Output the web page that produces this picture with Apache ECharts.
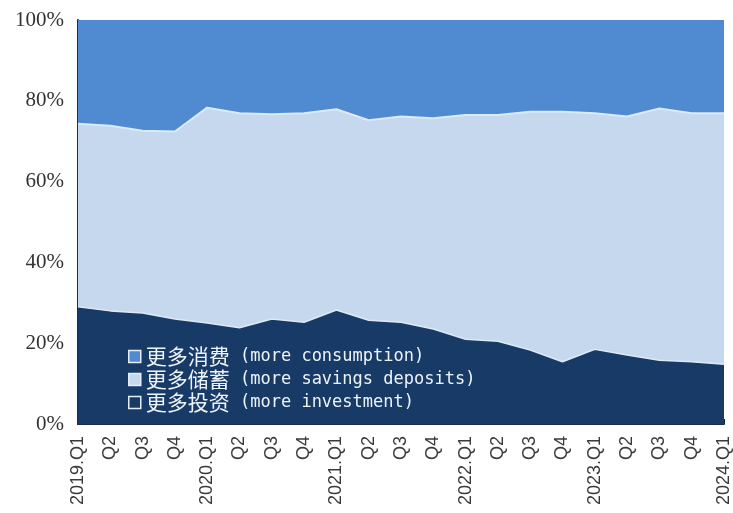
<!DOCTYPE html>
<html>
<head>
<meta charset="utf-8">
<script src="https://cdn.jsdelivr.net/npm/echarts@6/dist/echarts.min.js"></script>
<style>
html, body { margin: 0; padding: 0; background: #fff; }
#chart { width: 733px; height: 513px; }
</style>
</head>
<body>
<div id="chart"></div>
<script>
var chartDom = document.getElementById('chart');
var myChart = echarts.init(chartDom);

var quarters = ['2019.Q1', 'Q2', 'Q3', 'Q4', '2020.Q1', 'Q2', 'Q3', 'Q4', '2021.Q1', 'Q2', 'Q3', 'Q4',
    '2022.Q1', 'Q2', 'Q3', 'Q4', '2023.Q1', 'Q2', 'Q3', 'Q4', '2024.Q1'];

// share of depositors (%)
var investment = [29.0, 28.0, 27.5, 26.0, 25.0, 23.8, 26.0, 25.2, 28.2, 25.7, 25.2, 23.5,
    21.0, 20.5, 18.3, 15.4, 18.5, 17.1, 15.8, 15.4, 14.8];
var savings = [45.3, 45.8, 45.1, 46.4, 53.3, 53.1, 50.7, 51.7, 49.7, 49.5, 50.9, 52.2,
    55.5, 56.0, 59.0, 61.9, 58.4, 59.0, 62.3, 61.5, 62.1];
var consumption = [25.7, 26.2, 27.4, 27.6, 21.7, 23.1, 23.3, 23.1, 22.1, 24.8, 23.9, 24.3,
    23.5, 23.5, 22.7, 22.7, 23.1, 23.9, 21.9, 23.1, 23.1];

var namesCn = ['更多消费', '更多储蓄', '更多投资'];
var namesEn = ['(more consumption)', '(more savings deposits)', '(more investment)'];

var colConsumption = '#508bd1';
var colSavings = '#c6d8ee';
var colInvestment = '#183a66';

function areaSeries(idx, data, color, lineW) {
    return {
        name: namesCn[idx],
        type: 'line',
        stack: 'total',
        data: data,
        symbol: 'none',
        lineStyle: { color: '#dce9f6', width: lineW },
        areaStyle: { color: color, opacity: 1 },
        itemStyle: { color: color }
    };
}

var option = {
    animation: false,
    backgroundColor: '#fff',
    grid: { left: 78, right: 8, top: 20, bottom: 89 },
    legend: {
        orient: 'vertical',
        left: 123,
        top: 341,
        itemWidth: 12,
        itemHeight: 12,
        itemGap: 2,
        icon: 'rect',
        data: namesCn,
        itemStyle: { borderColor: '#e4eefa', borderWidth: 1.5 },
        formatter: function (name) {
            var i = namesCn.indexOf(name);
            return '{a|' + name + '}{b| ' + namesEn[i] + '}';
        },
        textStyle: {
            color: '#eef3fa',
            rich: {
                a: { fontFamily: 'Noto Sans CJK SC', fontSize: 21, lineHeight: 20, color: '#eef3fa' },
                b: { fontFamily: 'DejaVu Sans Mono', fontSize: 17, lineHeight: 20, color: '#eef3fa' }
            }
        }
    },
    xAxis: {
        type: 'category',
        data: quarters,
        boundaryGap: false,
        axisLine: { lineStyle: { color: '#1b2d4a', width: 2 } },
        axisTick: { inside: true, length: 5, lineStyle: { color: '#0f2342' } },
        axisLabel: {
            rotate: 90,
            interval: 0,
            margin: 12,
            fontFamily: 'Liberation Sans',
            fontSize: 18,
            color: '#3a3a3a'
        }
    },
    yAxis: {
        type: 'value',
        min: 0,
        max: 100,
        interval: 20,
        axisLine: { show: true, lineStyle: { color: '#1b2d4a', width: 2 } },
        axisTick: { show: true, inside: true, length: 5, lineStyle: { color: '#1b2d4a' } },
        splitLine: { show: false },
        axisLabel: {
            formatter: '{value}%',
            margin: 14,
            fontFamily: 'Liberation Serif',
            fontSize: 21,
            color: '#333'
        }
    },
    series: [
        areaSeries(2, investment, colInvestment, 1.5),
        areaSeries(1, savings, colSavings, 2),
        areaSeries(0, consumption, colConsumption, 0)
    ]
};

option && myChart.setOption(option);
</script>
</body>
</html>
